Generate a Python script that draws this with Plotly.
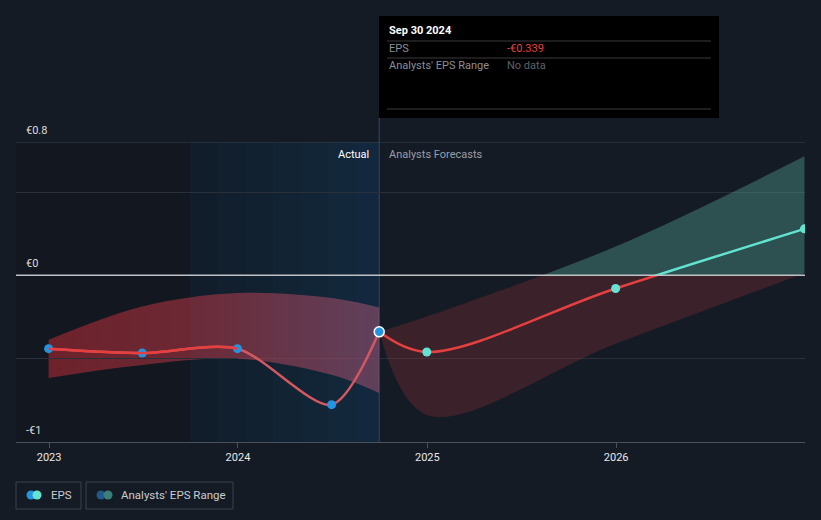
import plotly.graph_objects as go

# actual EPS (reported)
past_dates = ['2022-12-31', '2023-06-30', '2023-12-31', '2024-06-30', '2024-09-30']
past_eps = [-0.44, -0.466, -0.44, -0.776, -0.339]
past_hi = [-0.387, -0.187, -0.106, -0.136, -0.193]
past_lo = [-0.616, -0.538, -0.50, -0.597, -0.706]

# analyst forecasts
fc_dates = ['2024-09-30', '2024-12-31', '2025-12-31', '2026-12-31']
fc_eps = [-0.339, -0.46, -0.079, 0.279]
fc_hi = [-0.339, -0.247, 0.173, 0.714]
fc_lo = [-0.339, -0.838, -0.41, 0.013]

tick_dates = ['2023-01-01', '2024-01-01', '2025-01-01', '2026-01-01']
tick_text = ['2023', '2024', '2025', '2026']

BG = '#151b25'
L, R, T, B = 16, 16, 142, 78
W, H = 821, 520
PW, PH = W - L - R, H - T - B
X0, X1 = '2022-10-29', '2027-01-01'


def px(x):
    return (x - L) / PW


def py(y):
    return (H - B - y) / PH


fig = go.Figure()

# past range band, gradient red
fig.add_trace(go.Scatter(x=past_dates, y=past_lo, mode='lines', line=dict(width=0, shape='spline'),
                         showlegend=False, hoverinfo='skip'))
fig.add_trace(go.Scatter(x=past_dates, y=past_hi, mode='lines', line=dict(width=0, shape='spline'),
                         fill='tonexty',
                         fillgradient=dict(type='horizontal',
                                           colorscale=[[0, 'rgba(200,45,55,0.5)'],
                                                       [0.5, 'rgba(195,60,75,0.5)'],
                                                       [1, 'rgba(180,90,125,0.48)']]),
                         showlegend=False, hoverinfo='skip'))

# past EPS line: pale overall, brighter up to 2024 (x2 is clipped at 2024)
past_line = dict(width=2.5, shape='spline', smoothing=0.8)
fig.add_trace(go.Scatter(x=past_dates, y=past_eps, mode='lines',
                         line=dict(color='#d3585f', **past_line),
                         showlegend=False, hoverinfo='skip'))
fig.add_trace(go.Scatter(x=past_dates, y=past_eps, xaxis='x2', mode='lines',
                         line=dict(color='#e5403f', **past_line),
                         showlegend=False, hoverinfo='skip'))

# forecast band + line: red part below zero (y3), teal part above zero (y4)
for ax, band, line in (('y3', 'rgba(175,50,55,0.25)', '#e5403f'),
                       ('y4', 'rgba(90,178,160,0.36)', '#62e3d0')):
    fig.add_trace(go.Scatter(x=fc_dates, y=fc_lo, yaxis=ax, mode='lines',
                             line=dict(width=0, shape='spline'), showlegend=False, hoverinfo='skip'))
    fig.add_trace(go.Scatter(x=fc_dates, y=fc_hi, yaxis=ax, mode='lines',
                             line=dict(width=0, shape='spline'), fill='tonexty', fillcolor=band,
                             showlegend=False, hoverinfo='skip'))
    fig.add_trace(go.Scatter(x=fc_dates, y=fc_eps, yaxis=ax, mode='lines',
                             line=dict(color=line, width=2.5, shape='spline'),
                             showlegend=False, hoverinfo='skip'))

# markers, placed on the top-most subplots
fig.add_trace(go.Scatter(x=past_dates[:-1], y=past_eps[:-1], yaxis='y3', mode='markers',
                         marker=dict(color='#2394e0', size=9),
                         showlegend=False, hoverinfo='skip'))
neg = [(d, v) for d, v in zip(fc_dates[1:], fc_eps[1:]) if v < 0]
pos = [(d, v) for d, v in zip(fc_dates[1:], fc_eps[1:]) if v >= 0]
for ax, pts in (('y3', neg), ('y4', pos)):
    fig.add_trace(go.Scatter(x=[p[0] for p in pts], y=[p[1] for p in pts], yaxis=ax, mode='markers',
                             marker=dict(color='#64e3d2', size=9),
                             showlegend=False, hoverinfo='skip'))
fig.add_trace(go.Scatter(x=past_dates[-1:], y=past_eps[-1:], yaxis='y3', mode='markers',
                         marker=dict(color='#2394e0', size=10, line=dict(color='white', width=1.5)),
                         showlegend=False, hoverinfo='skip'))

split = 1 / 1.8
shapes = [
    # darker area before the highlighted year
    dict(type='rect', xref='x', yref='paper', x0=X0, x1='2023-09-30', y0=0, y1=1,
         fillcolor='#13171f', line_width=0, layer='below'),
]
# blue highlighted last twelve months, faked gradient
blues = ['#121d2b', '#121f2e', '#122130', '#122333', '#122536', '#13273a', '#13283e']
starts = ['2023-09-30', '2023-11-22', '2024-01-14', '2024-03-07', '2024-04-29', '2024-06-21', '2024-08-13']
ends = starts[1:] + ['2024-09-30']
for c, s, e in zip(blues, starts, ends):
    shapes.append(dict(type='rect', xref='x', yref='paper', x0=s, x1=e, y0=0, y1=1,
                       fillcolor=c, line_width=0, layer='below'))
shapes += [
    dict(type='line', xref='x', yref='paper', x0='2024-09-30', x1='2024-09-30', y0=0, y1=py(118),
         line=dict(color='#2e4a66', width=1), layer='below'),
    dict(type='line', xref='paper', yref='y', x0=0, x1=1, y0=0.8, y1=0.8,
         line=dict(color='#3a404b', width=1)),
    dict(type='line', xref='paper', yref='y', x0=0, x1=1, y0=0, y1=0,
         line=dict(color='#bfc1c5', width=1.5), layer='above'),
    # tooltip box
    dict(type='rect', xref='paper', yref='paper', x0=px(379), x1=px(719), y0=py(118), y1=py(16),
         fillcolor='#000000', line_width=0),
]
for yy in (41, 58, 109):
    shapes.append(dict(type='line', xref='paper', yref='paper', x0=px(387), x1=px(711),
                       y0=py(yy), y1=py(yy), line=dict(color='#3a3a3a', width=1)))

# legend boxes
for x0, x1 in ((16, 81), (86, 233)):
    shapes.append(dict(type='rect', xref='paper', yref='paper', x0=px(x0), x1=px(x1),
                       y0=py(509), y1=py(482), line=dict(color='#3c424e', width=1)))
for cx, col in ((31, '#2394e0'), (37, '#64e3d2'), (101, '#24578a'), (108, '#3b7f7b')):
    shapes.append(dict(type='circle', xref='paper', yref='paper', x0=px(cx - 4.5), x1=px(cx + 4.5),
                       y0=py(499.5), y1=py(490.5), fillcolor=col, line_width=0))

ann = []


def txt(x, y, s, color, size=11, anchor='left'):
    ann.append(dict(x=px(x), y=py(y), xref='paper', yref='paper', text=s, showarrow=False,
                    xanchor=anchor, yanchor='middle', font=dict(color=color, size=size)))


txt(387, 31, '<b>Sep 30 2024</b>', '#ffffff')
txt(387, 49, 'EPS', '#8b8f96')
txt(505, 49, '-€0.339', '#e5403f')
txt(387, 66, "Analysts' EPS Range", '#8b8f96')
txt(505, 66, 'No data', '#5f636a')
txt(371, 154, 'Actual', '#ffffff', anchor='right')
txt(387, 154, 'Analysts Forecasts', '#9a9ea5')
txt(24, 130, '€0.8', '#dddddd')
txt(24, 263, '€0', '#dddddd')
txt(24, 430, '-€1', '#dddddd')
txt(49, 495, 'EPS', '#c9ccd1', size=11.5)
txt(119, 495, "Analysts' EPS Range", '#c9ccd1', size=11.5)

fig.update_layout(
    width=W, height=H,
    margin=dict(l=L, r=R, t=T, b=B),
    paper_bgcolor=BG, plot_bgcolor='rgba(0,0,0,0)',
    font=dict(family='Roboto', color='#dddddd', size=11),
    hovermode=False,
    shapes=shapes,
    annotations=ann,
    xaxis=dict(type='date', range=[X0, X1], tickvals=tick_dates, ticktext=tick_text,
               showgrid=False, zeroline=False, showline=True, linecolor='#4a505c', linewidth=1,
               ticks='outside', ticklen=5, tickcolor='#4a505c', tickfont=dict(color='#e8e8e8', size=11)),
    xaxis2=dict(type='date', domain=[0, px(237.7)], range=[X0, '2024-01-01'], anchor='y',
                visible=False, showgrid=False, zeroline=False),
    yaxis=dict(range=[-1, 0.8], tickvals=[-0.5, 0, 0.5], showticklabels=False, showgrid=True,
               gridcolor='#2a303a', gridwidth=1, zeroline=False),
    yaxis3=dict(domain=[0, split], range=[-1, 0], visible=False, showgrid=False, zeroline=False),
    yaxis4=dict(domain=[split, 1], range=[0, 0.8], visible=False, showgrid=False, zeroline=False),
)

fig.write_html('out.html', config={'displayModeBar': False},
               post_script="document.body.style.margin='0';")
